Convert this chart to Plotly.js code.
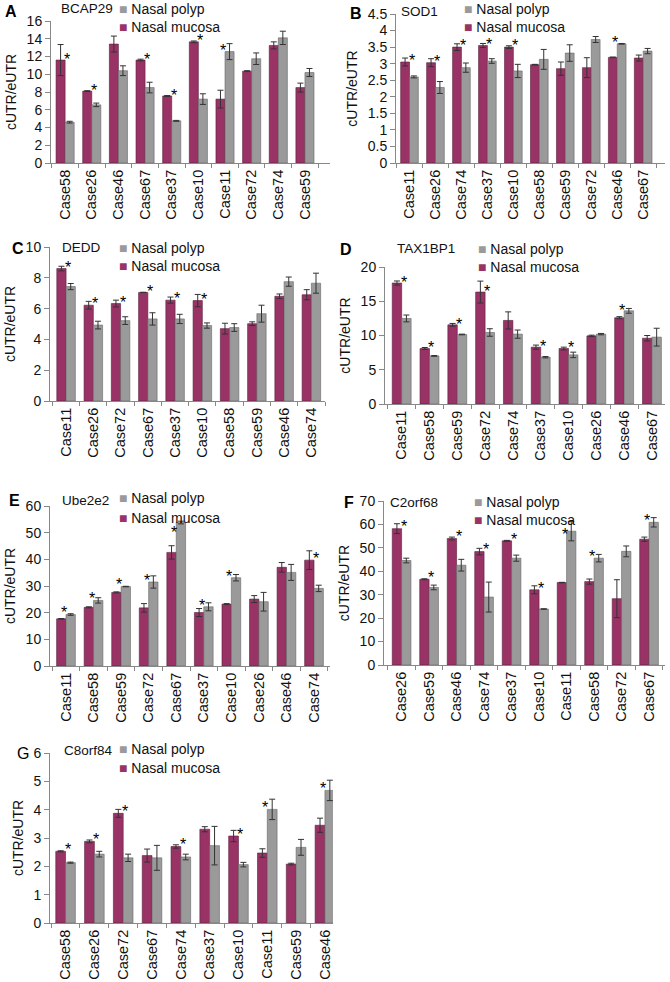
<!DOCTYPE html>
<html>
<head>
<meta charset="utf-8">
<script src="https://cdn.plot.ly/plotly-3.0.1.min.js"></script>
<style>
  body { margin: 0; background: #fff; }
  #chart { width: 670px; height: 982px; }
</style>
</head>
<body>
<div id="chart"></div>
<script>
// series names
let nameMucosa = "Nasal mucosa";
let namePolyp = "Nasal polyp";

// A  BCAP29
let catsA = ["Case58","Case26","Case46","Case67","Case37","Case10","Case11","Case72","Case74","Case59"];
let mucA = [11.6, 8.1, 13.4, 11.6, 7.55, 13.65, 7.2, 10.35, 13.25, 8.5];
let mucErrA = [1.75, 0.05, 0.9, 0.1, 0.05, 0.1, 1.0, 0.05, 0.4, 0.5];
let polA = [4.6, 6.55, 10.4, 8.5, 4.75, 7.2, 12.55, 11.75, 14.1, 10.2];
let polErrA = [0.1, 0.2, 0.55, 0.6, 0.05, 0.6, 0.9, 0.65, 0.75, 0.45];
let starA = [1,1,0,1,1,1,1,0,0,0];

// B  SOD1
let catsB = ["Case11","Case26","Case74","Case37","Case10","Case58","Case59","Case72","Case46","Case67"];
let mucB = [3.05, 3.03, 3.5, 3.55, 3.5, 2.97, 2.85, 2.88, 3.19, 3.17];
let mucErrB = [0.12, 0.12, 0.1, 0.06, 0.04, 0.01, 0.2, 0.3, 0.01, 0.09];
let polB = [2.6, 2.28, 2.88, 3.08, 2.78, 3.13, 3.32, 3.73, 3.6, 3.38];
let polErrB = [0.03, 0.18, 0.14, 0.07, 0.2, 0.3, 0.25, 0.09, 0.01, 0.08];
let starB = [1,1,1,1,1,0,0,0,1,0];

// C  DEDD
let catsC = ["Case11","Case26","Case72","Case67","Case37","Case10","Case58","Case59","Case46","Case74"];
let mucC = [8.6, 6.22, 6.33, 7.05, 6.55, 6.52, 4.7, 5.02, 6.8, 6.9];
let mucErrC = [0.15, 0.25, 0.22, 0.01, 0.2, 0.4, 0.35, 0.12, 0.15, 0.33];
let polC = [7.43, 4.93, 5.22, 5.33, 5.33, 4.9, 4.77, 5.67, 7.75, 7.65];
let polErrC = [0.2, 0.25, 0.25, 0.4, 0.3, 0.17, 0.25, 0.55, 0.3, 0.65];
let starC = [1,1,1,1,1,1,0,0,0,0];

// D  TAX1BP1
let catsD = ["Case11","Case58","Case59","Case72","Case74","Case37","Case10","Case26","Case46","Case67"];
let mucD = [17.66, 8.1, 11.56, 16.34, 12.2, 8.3, 8.1, 9.95, 12.6, 9.6];
let mucErrD = [0.3, 0.15, 0.2, 1.6, 1.25, 0.3, 0.2, 0.1, 0.15, 0.4];
let polD = [12.49, 7.02, 10.15, 10.44, 10.2, 6.83, 7.17, 10.2, 13.6, 9.76];
let polErrD = [0.5, 0.05, 0.05, 0.55, 0.6, 0.1, 0.4, 0.1, 0.35, 1.3];
let starD = [1,1,1,1,0,1,1,0,1,0];

// E  Ube2e2
let catsE = ["Case11","Case58","Case59","Case72","Case67","Case37","Case10","Case26","Case46","Case74"];
let mucE = [17.7, 22.0, 27.6, 21.8, 42.6, 20.05, 23.2, 25.1, 37.0, 39.7];
let mucErrE = [0.1, 0.2, 0.2, 1.6, 2.5, 1.5, 0.2, 1.3, 1.8, 3.5];
let polE = [19.3, 24.6, 29.8, 31.5, 53.8, 22.2, 33.1, 24.1, 35.1, 29.1];
let polErrE = [0.3, 1.0, 0.1, 2.3, 0.5, 1.5, 1.2, 3.5, 3.0, 1.2];
let starE = [1,1,1,1,1,1,1,0,0,1];

// F  C2orf68
let catsF = ["Case26","Case59","Case46","Case74","Case37","Case10","Case11","Case58","Case72","Case67"];
let mucF = [58.2, 36.6, 54.0, 48.4, 53.0, 32.1, 35.2, 35.6, 28.3, 53.7];
let mucErrF = [2.1, 0.2, 0.6, 1.4, 0.2, 1.7, 0.1, 1.1, 8.1, 0.9];
let polF = [44.6, 33.1, 42.6, 29.0, 45.6, 23.9, 57.1, 45.6, 48.5, 60.9];
let polErrF = [1.0, 1.0, 2.5, 6.4, 1.3, 0.1, 4.1, 1.6, 2.3, 2.0];
let starF = [1,1,1,1,1,1,1,1,0,1];

// G  C8orf84
let catsG = ["Case58","Case26","Case72","Case67","Case74","Case37","Case10","Case11","Case59","Case46"];
let mucG = [2.53, 2.88, 3.87, 2.38, 2.7, 3.31, 3.07, 2.47, 2.08, 3.45];
let mucErrG = [0.02, 0.05, 0.14, 0.23, 0.06, 0.09, 0.2, 0.15, 0.03, 0.25];
let polG = [2.13, 2.43, 2.3, 2.3, 2.33, 2.73, 2.06, 4.01, 2.67, 4.68];
let polErrG = [0.02, 0.1, 0.13, 0.44, 0.1, 0.68, 0.08, 0.36, 0.28, 0.36];
let starG = [1,1,1,0,1,0,1,1,0,1];

// panel placement in page pixels (left/right of plot, y of top tick and of zero)
var panels = [
  {letter:"A", bold:true,  gene:"BCAP29",  cats:catsA, m:mucA, me:mucErrA, p:polA, pe:polErrA, st:starA,
   l:51, r:330, t:21, b:163, ymax:16, dtick:2, xr:[-0.53, 9.94],
   letterPos:[3,12], genePos:[59,9], legPos:[117,9,27]},
  {letter:"B", bold:true,  gene:"SOD1",    cats:catsB, m:mucB, me:mucErrB, p:polB, pe:polErrB, st:starB,
   l:396, r:665, t:14, b:163, ymax:4.5, dtick:0.5, xr:[-0.52, 9.84],
   letterPos:[348,13], genePos:[399,12], legPos:[462,9,27]},
  {letter:"C", bold:true,  gene:"DEDD",    cats:catsC, m:mucC, me:mucErrC, p:polC, pe:polErrC, st:starC,
   l:50, r:325, t:247, b:401, ymax:10, dtick:2, xr:[-0.59, 9.5],
   letterPos:[10,248], genePos:[60,247], legPos:[117,248,266]},
  {letter:"D", bold:true,  gene:"TAX1BP1", cats:catsD, m:mucD, me:mucErrD, p:polD, pe:polErrD, st:starD,
   l:385, r:665, t:267, b:404, ymax:20, dtick:5, xr:[-0.6, 9.47],
   letterPos:[338,250], genePos:[395,249], legPos:[476,249,267]},
  {letter:"E", bold:true,  gene:"Ube2e2",  cats:catsE, m:mucE, me:mucErrE, p:polE, pe:polErrE, st:starE,
   l:50, r:330, t:506, b:666, ymax:60, dtick:10, xr:[-0.58, 9.58],
   letterPos:[7,500], genePos:[60,500], legPos:[117,498,518]},
  {letter:"F", bold:true,  gene:"C2orf68", cats:catsF, m:mucF, me:mucErrF, p:polF, pe:polErrF, st:starF,
   l:384, r:665, t:501, b:665, ymax:70, dtick:10, xr:[-0.64, 9.58],
   letterPos:[342,502], genePos:[388,502], legPos:[472,502,520]},
  {letter:"G", bold:false, gene:"C8orf84", cats:catsG, m:mucG, me:mucErrG, p:polG, pe:polErrG, st:starG,
   l:50, r:333, t:753, b:923, ymax:6, dtick:1, xr:[-0.54, 9.28],
   letterPos:[15,753], genePos:[62,750], legPos:[117,749,768]}
];

var W = 670, H = 982;
var font = "Liberation Sans, Arial, sans-serif";
var colMuc = "#993366", colPol = "#9a9a9a";

function px(x) { return x / W; }
function py(y) { return 1 - y / H; }

var data = [];
var layout = {
  width: W, height: H,
  margin: {l: 0, r: 0, t: 0, b: 0},
  paper_bgcolor: "#fff", plot_bgcolor: "#fff",
  showlegend: false,
  barmode: "group", bargap: 0.32, bargroupgap: 0,
  font: {family: font, color: "#111"},
  annotations: []
};

panels.forEach(function(pn, i) {
  var s = i === 0 ? "" : String(i + 1);

  data.push({
    type: "bar", name: nameMucosa, x: pn.cats, y: pn.m,
    xaxis: "x" + s, yaxis: "y" + s,
    marker: {color: colMuc, line: {color: "#5a1f3c", width: 0.6}},
    error_y: {type: "data", array: pn.me, color: "#333", thickness: 1, width: 3},
    hoverinfo: "x+y"
  });
  data.push({
    type: "bar", name: namePolyp, x: pn.cats, y: pn.p,
    xaxis: "x" + s, yaxis: "y" + s,
    marker: {color: colPol, line: {color: "#666", width: 0.6}},
    error_y: {type: "data", array: pn.pe, color: "#333", thickness: 1, width: 3},
    hoverinfo: "x+y"
  });

  layout["xaxis" + s] = {
    domain: [px(pn.l), px(pn.r)], anchor: "y" + s,
    type: "category", range: pn.xr,
    showline: true, linecolor: "#888", linewidth: 1,
    ticks: "outside", tickson: "boundaries", ticklen: 4, tickcolor: "#888",
    tickangle: -90, tickfont: {size: 14.5, family: font, color: "#111"},
    showgrid: false, zeroline: false
  };
  layout["yaxis" + s] = {
    domain: [py(pn.b), py(pn.t)], anchor: "x" + s,
    range: [0, pn.ymax], dtick: pn.dtick,
    showline: true, linecolor: "#888", linewidth: 1,
    ticks: "outside", ticklen: 5, tickcolor: "#888",
    tickfont: {size: 14, family: font, color: "#111"},
    showgrid: false, zeroline: false,
    title: {text: "cUTR/eUTR", font: {size: 14, family: font, color: "#111"}, standoff: 6}
  };

  var ann = layout.annotations;
  ann.push({xref: "paper", yref: "paper", x: px(pn.letterPos[0]), y: py(pn.letterPos[1]),
    xanchor: "left", yanchor: "middle", showarrow: false,
    text: pn.bold ? "<b>" + pn.letter + "</b>" : pn.letter,
    font: {size: 16, family: font, color: "#000"}});
  ann.push({xref: "paper", yref: "paper", x: px(pn.genePos[0]), y: py(pn.genePos[1]),
    xanchor: "left", yanchor: "middle", showarrow: false, text: pn.gene,
    font: {size: 13.5, family: font, color: "#111"}});
  ann.push({xref: "paper", yref: "paper", x: px(pn.legPos[0]), y: py(pn.legPos[1]),
    xanchor: "left", yanchor: "middle", showarrow: false,
    text: '<span style="color:' + colPol + '">■</span> ' + namePolyp,
    font: {size: 14, family: font, color: "#111"}});
  ann.push({xref: "paper", yref: "paper", x: px(pn.legPos[0]), y: py(pn.legPos[2]),
    xanchor: "left", yanchor: "middle", showarrow: false,
    text: '<span style="color:' + colMuc + '">■</span> ' + nameMucosa,
    font: {size: 14, family: font, color: "#111"}});

  // significance asterisks, kept clear of the legend rows
  pn.st.forEach(function(flag, k) {
    if (!flag) return;
    var y = Math.max(pn.m[k], pn.p[k]) + 0.035 * pn.ymax;
    var sx = pn.l + (k - pn.xr[0]) / (pn.xr[1] - pn.xr[0]) * (pn.r - pn.l);
    if (sx > pn.legPos[0] && sx < pn.legPos[0] + 105) {
      var lim = (pn.b - (pn.legPos[2] + 10)) / (pn.b - pn.t) * pn.ymax;
      y = Math.min(y, lim);
    }
    ann.push({xref: "x" + s, yref: "y" + s, x: pn.cats[k], y: y,
      text: "*", showarrow: false, xshift: pn.p[k] > pn.m[k] ? -2 : 2, yshift: -4, yanchor: "middle",
      font: {size: 16, family: font, color: "#000"}});
  });
});

Plotly.newPlot("chart", data, layout, {staticPlot: true});
</script>
</body>
</html>
